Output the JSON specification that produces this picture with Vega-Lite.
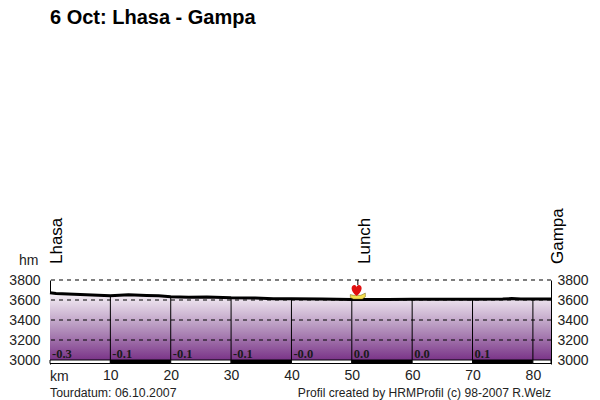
{
  "$schema": "https://vega.github.io/schema/vega-lite/v6.json",
  "width": 501,
  "height": 84,
  "autosize": "none",
  "padding": {"left": 50, "top": 280, "right": 49, "bottom": 36},
  "background": "white",
  "config": {"view": {"stroke": null}, "font": "Liberation Sans"},
  "title": {
    "text": "6 Oct: Lhasa - Gampa",
    "anchor": "start",
    "frame": "group",
    "offset": 180,
    "font": "Liberation Sans",
    "fontSize": 20,
    "fontWeight": "bold",
    "color": "black"
  },
  "datasets": {
    "profile": [
      {"km": 0, "alt": 3672},
      {"km": 1, "alt": 3665},
      {"km": 3, "alt": 3660},
      {"km": 5, "alt": 3655},
      {"km": 8, "alt": 3648},
      {"km": 10, "alt": 3642},
      {"km": 13, "alt": 3652},
      {"km": 16, "alt": 3645},
      {"km": 18, "alt": 3642},
      {"km": 20, "alt": 3632},
      {"km": 23, "alt": 3628},
      {"km": 26, "alt": 3630},
      {"km": 30, "alt": 3622},
      {"km": 34, "alt": 3620},
      {"km": 37, "alt": 3612},
      {"km": 40, "alt": 3612},
      {"km": 45, "alt": 3610},
      {"km": 50, "alt": 3605},
      {"km": 53, "alt": 3606},
      {"km": 56, "alt": 3604},
      {"km": 60, "alt": 3608},
      {"km": 65, "alt": 3608},
      {"km": 70, "alt": 3607},
      {"km": 75, "alt": 3610},
      {"km": 76.5, "alt": 3614},
      {"km": 78, "alt": 3609},
      {"km": 83, "alt": 3610}
    ],
    "sections": [
      {"km": 0, "end": 10, "part": "a", "top": 3672, "grade": "-0.3"},
      {"km": 10, "end": 20, "part": "b", "top": 3642, "grade": "-0.1"},
      {"km": 20, "end": 30, "part": "a", "top": 3632, "grade": "-0.1"},
      {"km": 30, "end": 40, "part": "b", "top": 3622, "grade": "-0.1"},
      {"km": 40, "end": 50, "part": "a", "top": 3612, "grade": "-0.0"},
      {"km": 50, "end": 60, "part": "b", "top": 3605, "grade": "0.0"},
      {"km": 60, "end": 70, "part": "a", "top": 3608, "grade": "0.0"},
      {"km": 70, "end": 80, "part": "b", "top": 3607, "grade": "0.1"},
      {"km": 80, "end": 83, "part": "a", "top": 3610, "grade": ""}
    ],
    "places": [
      {"km": 0, "name": "Lhasa"},
      {"km": 51, "name": "Lunch"},
      {"km": 83, "name": "Gampa"}
    ]
  },
  "layer": [
    {
      "data": {"name": "profile"},
      "mark": {
        "type": "area",
        "color": {
          "gradient": "linear",
          "x1": 0, "y1": 0, "x2": 0, "y2": 1,
          "stops": [
            {"offset": 0, "color": "#f8f3f8"},
            {"offset": 0.5, "color": "#b898c0"},
            {"offset": 1, "color": "#7a3488"}
          ]
        }
      },
      "encoding": {
        "x": {
          "field": "km",
          "type": "quantitative",
          "scale": {"domain": [0, 83], "nice": false, "zero": false},
          "axis": {
            "title": null,
            "values": [10, 20, 30, 40, 50, 60, 70, 80],
            "grid": false,
            "domain": false,
            "ticks": false,
            "labelFontSize": 14,
            "labelColor": "#222222",
            "labelPadding": 4
          }
        },
        "y": {
          "field": "alt",
          "type": "quantitative",
          "scale": {"domain": [2960, 3800], "nice": false, "zero": false},
          "axis": {
            "orient": "left",
            "title": "hm",
            "titleAngle": 0,
            "titleX": -12,
            "titleY": -13,
            "titleAlign": "right",
            "titleFontSize": 14,
            "titleFontWeight": "normal",
            "titleColor": "#222222",
            "values": [3000, 3200, 3400, 3600, 3800],
            "format": "d",
            "grid": false,
            "domainColor": "black",
            "ticks": false,
            "labelFontSize": 14,
            "labelColor": "#222222",
            "labelPadding": 10
          }
        },
        "y2": {"datum": 3000}
      }
    },
    {
      "data": {"name": "sections"},
      "mark": {"type": "rule", "color": "black", "strokeWidth": 1},
      "transform": [{"filter": "datum.km > 0"}],
      "encoding": {
        "x": {"field": "km", "type": "quantitative"},
        "y": {"field": "top", "type": "quantitative", "axis": null},
        "y2": {"datum": 3000}
      }
    },
    {
      "data": {"values": [{"alt": 3200}, {"alt": 3400}, {"alt": 3600}, {"alt": 3800}]},
      "mark": {"type": "rule", "color": "black", "strokeWidth": 1, "strokeDash": [4, 4]},
      "encoding": {
        "y": {
          "field": "alt",
          "type": "quantitative",
          "axis": {
            "orient": "right",
            "title": null,
            "values": [3000, 3200, 3400, 3600, 3800],
            "format": "d",
            "grid": false,
            "domainColor": "black",
            "ticks": false,
            "labelFontSize": 14,
            "labelColor": "#222222",
            "labelPadding": 6
          }
        }
      }
    },
    {
      "data": {"name": "sections"},
      "mark": {"type": "rect", "stroke": "black", "strokeWidth": 1},
      "encoding": {
        "x": {"field": "km", "type": "quantitative"},
        "x2": {"field": "end"},
        "y": {"datum": 3000, "axis": null},
        "y2": {"datum": 2965},
        "fill": {
          "field": "part",
          "type": "nominal",
          "legend": null,
          "scale": {"domain": ["a", "b"], "range": ["white", "black"]}
        }
      }
    },
    {
      "data": {"name": "profile"},
      "mark": {"type": "line", "color": "black", "strokeWidth": 3},
      "encoding": {
        "x": {"field": "km", "type": "quantitative"},
        "y": {"field": "alt", "type": "quantitative", "axis": null}
      }
    },
    {
      "data": {"name": "sections"},
      "mark": {
        "type": "text",
        "align": "left",
        "baseline": "alphabetic",
        "dx": 2,
        "dy": -2,
        "font": "Liberation Serif",
        "fontSize": 12.5,
        "fontWeight": "bold",
        "color": "#1a1a1a"
      },
      "encoding": {
        "x": {"field": "km", "type": "quantitative"},
        "y": {"datum": 3000, "axis": null},
        "text": {"field": "grade"}
      }
    },
    {
      "data": {"name": "places"},
      "mark": {
        "type": "text",
        "angle": 270,
        "align": "left",
        "baseline": "alphabetic",
        "dx": 16,
        "dy": 12,
        "fontSize": 17,
        "color": "black"
      },
      "encoding": {
        "x": {"field": "km", "type": "quantitative"},
        "y": {"datum": 3800, "axis": null},
        "text": {"field": "name"}
      }
    },
    {
      "data": {"values": [{"km": 51, "from": 3800, "to": 3750}]},
      "mark": {"type": "rule", "color": "black", "strokeWidth": 1},
      "encoding": {
        "x": {"field": "km", "type": "quantitative"},
        "y": {"field": "from", "type": "quantitative", "axis": null},
        "y2": {"field": "to"}
      }
    },
    {
      "data": {"values": [{"km": 51, "alt": 3632}]},
      "mark": {
        "type": "point",
        "filled": true,
        "color": "#f5e050",
        "stroke": "#6a5a10",
        "strokeWidth": 0.5,
        "opacity": 1,
        "size": 225,
        "shape": "M-1,-0.3 L-0.6,-0.2 L0.4,-0.2 L1,-0.5 L1,0 L0.6,0.3 L-0.6,0.3 L-1,0.1 Z"
      },
      "encoding": {
        "x": {"field": "km", "type": "quantitative"},
        "y": {"field": "alt", "type": "quantitative", "axis": null}
      }
    },
    {
      "data": {"values": [{"km": 50.8, "alt": 3695}]},
      "mark": {
        "type": "point",
        "filled": true,
        "color": "#e01010",
        "opacity": 1,
        "size": 120,
        "shape": "M0,1 C-1.3,0 -1,-1 -0.4,-1 C-0.2,-1 0,-0.8 0,-0.6 C0,-0.8 0.2,-1 0.4,-1 C1,-1 1.3,0 0,1 Z"
      },
      "encoding": {
        "x": {"field": "km", "type": "quantitative"},
        "y": {"field": "alt", "type": "quantitative", "axis": null}
      }
    },
    {
      "data": {"values": [{"km": 0, "alt": 2835, "label": "km"}]},
      "mark": {"type": "text", "align": "left", "baseline": "middle", "fontSize": 14, "color": "#222222"},
      "encoding": {
        "x": {"field": "km", "type": "quantitative"},
        "y": {"field": "alt", "type": "quantitative", "axis": null},
        "text": {"field": "label"}
      }
    },
    {
      "data": {"values": [{"km": 0, "alt": 2675, "label": "Tourdatum: 06.10.2007"}]},
      "mark": {"type": "text", "align": "left", "baseline": "middle", "fontSize": 12.3, "color": "#222222"},
      "encoding": {
        "x": {"field": "km", "type": "quantitative"},
        "y": {"field": "alt", "type": "quantitative", "axis": null},
        "text": {"field": "label"}
      }
    },
    {
      "data": {"values": [{"km": 83, "alt": 2675, "label": "Profil created by HRMProfil (c) 98-2007 R.Welz"}]},
      "mark": {"type": "text", "align": "right", "baseline": "middle", "fontSize": 12.1, "color": "#222222"},
      "encoding": {
        "x": {"field": "km", "type": "quantitative"},
        "y": {"field": "alt", "type": "quantitative", "axis": null},
        "text": {"field": "label"}
      }
    }
  ],
  "resolve": {"axis": {"y": "independent"}}
}
